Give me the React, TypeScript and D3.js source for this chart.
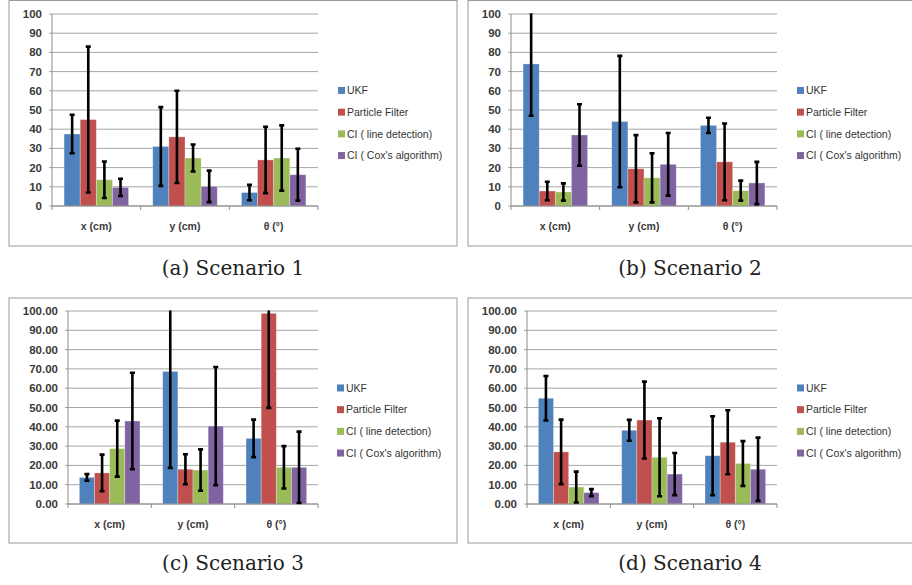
import React from 'react';
import * as d3 from 'd3';

// shared chart content
const categories = ['x (cm)', 'y (cm)', 'θ (°)'];
const seriesNames = ['UKF', 'Particle Filter', 'CI ( line detection)', "CI ( Cox's algorithm)"];
const seriesColors = ['#4F81BD', '#C0504D', '#9BBB59', '#8064A2'];
const yTicks = [0, 10, 20, 30, 40, 50, 60, 70, 80, 90, 100];
const captions = ['(a) Scenario 1', '(b) Scenario 2', '(c) Scenario 3', '(d) Scenario 4'];

// means, one row per series (x, y, θ)
const s1Means = [[37.5, 31, 7], [45, 36, 24], [13.7, 25, 25], [9.7, 10.2, 16.3]];
const s1Errors = [[10, 20.5, 4], [38, 24, 17.3], [9.5, 7, 17], [4.5, 8.2, 13.5]];

const s2Means = [[74, 44, 42], [7.8, 19.4, 23], [7.3, 14.7, 8], [37, 21.7, 12]];
const s2Errors = [[27, 34.2, 4], [4.8, 17.5, 20], [4.5, 12.8, 5.2], [16, 16.3, 11]];

const s3Means = [[13.8, 68.7, 34], [16.1, 18, 98.8], [28.7, 17.6, 19], [43, 40.4, 19]];
const s3Errors = [[1.7, 50, 9.7], [9.5, 7.8, 49], [14.5, 10.7, 11], [25, 30.6, 18.5]];

const s4Means = [[54.8, 38.2, 25], [27, 43.5, 32], [8.8, 24.2, 21], [5.9, 15.5, 18]];
const s4Errors = [[11.5, 5.4, 20.5], [16.7, 19.9, 16.6], [8, 20.2, 11.6], [1.8, 10.9, 16.4]];

const FONT = '"Liberation Sans", Arial, sans-serif';

type Layout = {
  frame: [number, number, number, number];
  plot: { left: number; right: number; top: number; bottom: number };
  legendX: number;
  caption: [number, number];
  fmt: (n: number) => string;
};

const layouts: Layout[] = [
  { frame: [9, 0.5, 457, 246], plot: { left: 52, right: 318, top: 14, bottom: 206 }, legendX: 338, caption: [233, 275], fmt: d3.format('d') },
  { frame: [468, 0.5, 915, 246], plot: { left: 511, right: 777, top: 14, bottom: 206 }, legendX: 797, caption: [690, 275], fmt: d3.format('d') },
  { frame: [9, 298, 457, 543], plot: { left: 68, right: 318, top: 311, bottom: 504 }, legendX: 337, caption: [233, 570], fmt: d3.format('.2f') },
  { frame: [468, 298, 915, 543], plot: { left: 527, right: 777, top: 311, bottom: 504 }, legendX: 797, caption: [690, 570], fmt: d3.format('.2f') },
];

const scenarios = [
  { means: s1Means, errors: s1Errors },
  { means: s2Means, errors: s2Errors },
  { means: s3Means, errors: s3Errors },
  { means: s4Means, errors: s4Errors },
];

function Panel({ idx }: { idx: number }) {
  const L = layouts[idx];
  const { means, errors } = scenarios[idx];
  const { left, right, top, bottom } = L.plot;
  const y = d3.scaleLinear().domain([0, 100]).range([bottom, top]);
  const x0 = d3.scaleBand<string>().domain(categories).range([left, right]).padding(0);
  const x1 = d3.scaleBand<number>().domain(d3.range(seriesNames.length)).range([0, x0.bandwidth()]).paddingInner(0).paddingOuter(0.75);
  const clipId = `clip${idx}`;
  const legendMid = (top + bottom) / 2 + 13;
  const legendStep = 21.7;
  const [fx0, fy0, fx1, fy1] = L.frame;
  const cap = 2.5;

  return (
    <g>
      <defs>
        <clipPath id={clipId}>
          <rect x={left - 10} y={top - 0.5} width={right - left + 20} height={bottom - top + 1} />
        </clipPath>
      </defs>
      <rect x={fx0} y={fy0} width={fx1 - fx0} height={fy1 - fy0} fill="#fff" stroke="#9a9a9a" strokeWidth={1} />
      {/* gridlines */}
      {yTicks.map((t) => (
        <line key={t} x1={left - 3} x2={right} y1={y(t)} y2={y(t)} stroke="#a6a6a6" strokeWidth={1} />
      ))}
      {yTicks.map((t) => (
        <text key={'l' + t} x={left - 10} y={y(t)} dy="0.35em" textAnchor="end" fontFamily={FONT} fontWeight="bold" fontSize={11.5} fill="#3a3a3a">
          {L.fmt(t)}
        </text>
      ))}
      {/* bars */}
      {categories.map((c, ci) =>
        seriesNames.map((s, si) => (
          <rect key={c + s} x={x0(c)! + x1(si)!} y={y(means[si][ci])} width={x1.bandwidth()} height={y(0) - y(means[si][ci])} fill={seriesColors[si]} stroke="rgba(255,255,255,0.35)" strokeWidth={0.8} />
        ))
      )}
      {/* axes */}
      <line x1={left} x2={left} y1={top} y2={bottom} stroke="#8c8c8c" strokeWidth={1} />
      <line x1={left} x2={right} y1={bottom} y2={bottom} stroke="#8c8c8c" strokeWidth={1} />
      {[...categories.map((c) => x0(c)!), right].map((p, i) => (
        <line key={'t' + i} x1={p} x2={p} y1={bottom} y2={bottom + 4} stroke="#8c8c8c" strokeWidth={1} />
      ))}
      {categories.map((c) => (
        <text key={'c' + c} x={x0(c)! + x0.bandwidth() / 2} y={bottom + 20} dy="0.35em" textAnchor="middle" fontFamily={FONT} fontWeight="bold" fontSize={10.5} fill="#3a3a3a">
          {c}
        </text>
      ))}
      {/* error bars */}
      <g clipPath={`url(#${clipId})`}>
        {categories.map((c, ci) =>
          seriesNames.map((s, si) => {
            const cx = x0(c)! + x1(si)! + x1.bandwidth() / 2;
            const hi = y(means[si][ci] + errors[si][ci]);
            const lo = y(means[si][ci] - errors[si][ci]);
            return (
              <g key={'e' + c + s} stroke="#000" strokeWidth={2.6}>
                <line x1={cx} x2={cx} y1={hi} y2={lo} />
                <line x1={cx - cap} x2={cx + cap} y1={hi} y2={hi} />
                <line x1={cx - cap} x2={cx + cap} y1={lo} y2={lo} />
              </g>
            );
          })
        )}
      </g>
      {/* legend */}
      {seriesNames.map((s, si) => {
        const ly = legendMid + (si - 1.5) * legendStep;
        return (
          <g key={'lg' + s}>
            <rect x={L.legendX} y={ly - 3.5} width={7} height={7} fill={seriesColors[si]} />
            <text x={L.legendX + 9} y={ly} dy="0.35em" fontFamily={FONT} fontSize={10.5} fill="#333">
              {s}
            </text>
          </g>
        );
      })}
      <text x={L.caption[0]} y={L.caption[1]} textAnchor="middle" fontFamily='"DejaVu Serif", serif' fontSize={20} fill="#222">
        {captions[idx]}
      </text>
    </g>
  );
}

export default function App() {
  return (
    <svg width={912} height={585} style={{ position: 'absolute', left: 0, top: 0, background: '#fff' }}>
      {layouts.map((_, i) => (
        <Panel key={i} idx={i} />
      ))}
    </svg>
  );
}
